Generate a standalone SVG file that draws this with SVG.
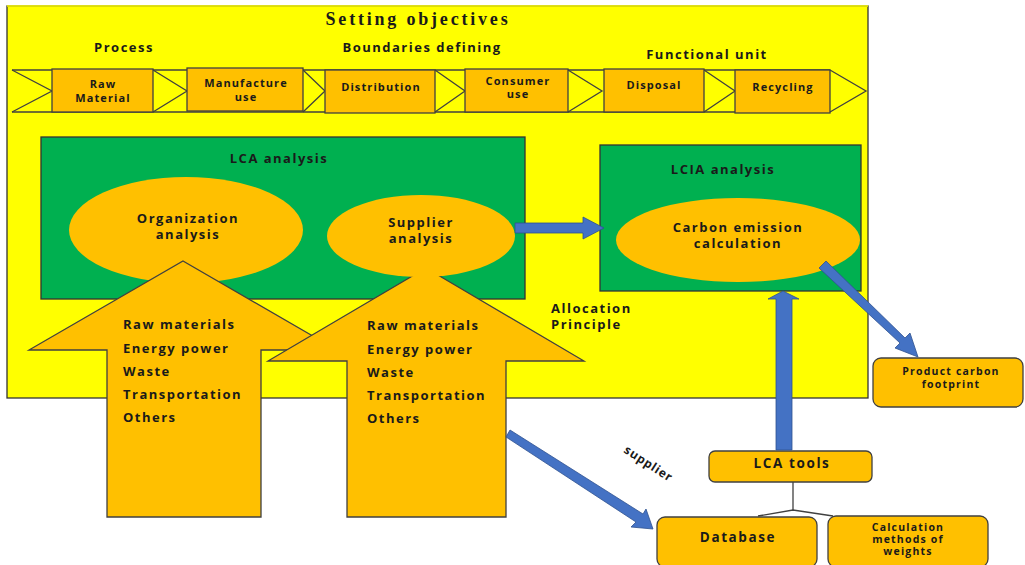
<svg xmlns="http://www.w3.org/2000/svg" width="1025" height="565" viewBox="0 0 1025 565">
  <defs>
    <style>
      .t { font-family: "Open Sans", "Liberation Sans", sans-serif; font-weight: 700; fill: #1a1a1a; }
      .c { text-anchor: middle; }
      .s10 { font-size: 10.5px; letter-spacing: 1.2px; }
      .s11 { font-size: 11px; letter-spacing: 1.1px; }
      .s12 { font-size: 13px; letter-spacing: 1.5px; }
      .s13 { font-size: 13.5px; letter-spacing: 1.6px; }
      .sup { font-size: 12px; letter-spacing: 0.8px; }
      .ttl { font-family: "Liberation Serif", "DejaVu Serif", serif; font-weight: 700; font-size: 18px; letter-spacing: 2.8px; fill: #1a1a1a; text-anchor: middle; }
      .ln { fill: none; stroke: #404040; stroke-width: 1.3; }
      .box { fill: #FFC000; stroke: #404040; stroke-width: 1.3; }
      .rbox { fill: #FFC000; stroke: #404040; stroke-width: 1.3; }
      .grn { fill: #00B050; stroke: #333; stroke-width: 1.3; }
      .ell { fill: #FFC000; stroke: none; }
      .big { fill: #FFC000; stroke: #404040; stroke-width: 1.3; }
      .blue { fill: #4472C4; stroke: #2F528F; stroke-width: 0.8; }
    </style>
  </defs>

  <!-- scope frame -->
  <g id="frame">
    <rect x="7" y="6" width="861" height="392" fill="#FFFF00" stroke="#333" stroke-width="1.3"/>
    <line x1="7" y1="6" x2="868" y2="6" stroke="#FFFF00" stroke-width="1.4"/>
    <text class="ttl" x="418" y="25">Setting objectives</text>
    <text class="t s12 c" x="124" y="52">Process</text>
    <text class="t s12 c" x="422" y="52">Boundaries defining</text>
    <text class="t s12 c" x="707" y="59">Functional unit</text>
  </g>

  <!-- life-cycle stage strip -->
  <g id="stages">
    <line class="ln" x1="12" y1="70" x2="830" y2="70"/>
    <line class="ln" x1="12" y1="112" x2="830" y2="112"/>
    <polyline class="ln" points="12,70 52,91 12,112"/>
    <polyline class="ln" points="153,70 187,91 153,112"/>
    <polyline class="ln" points="303,70 325,91 303,112"/>
    <polyline class="ln" points="435,70 465,91 435,112"/>
    <polyline class="ln" points="568,70 602,91 568,112"/>
    <polyline class="ln" points="704,70 735,91 704,112"/>
    <polyline class="ln" points="830,70 866,91 830,112"/>
  </g>
  <g id="stage-raw">
    <rect class="box" x="52" y="69" width="101" height="43"/>
    <text class="t s11 c" x="103" y="88">Raw</text>
    <text class="t s11 c" x="103" y="102">Material</text>
  </g>
  <g id="stage-manufacture">
    <rect class="box" x="187" y="68" width="116" height="43"/>
    <text class="t s11 c" x="246" y="87">Manufacture</text>
    <text class="t s11 c" x="246" y="101">use</text>
  </g>
  <g id="stage-distribution">
    <rect class="box" x="325" y="70" width="110" height="43"/>
    <text class="t s11 c" x="381" y="91">Distribution</text>
  </g>
  <g id="stage-consumer">
    <rect class="box" x="465" y="69" width="103" height="43"/>
    <text class="t s11 c" x="518" y="85">Consumer</text>
    <text class="t s11 c" x="518" y="98">use</text>
  </g>
  <g id="stage-disposal">
    <rect class="box" x="604" y="69" width="100" height="43"/>
    <text class="t s11 c" x="654" y="89">Disposal</text>
  </g>
  <g id="stage-recycling">
    <rect class="box" x="735" y="70" width="95" height="43"/>
    <text class="t s11 c" x="783" y="91">Recycling</text>
  </g>

  <!-- LCA analysis -->
  <g id="lca">
    <rect class="grn" x="41" y="137" width="484" height="162"/>
    <text class="t s12 c" x="279" y="163">LCA analysis</text>
  </g>
  <g id="org-analysis">
    <ellipse class="ell" cx="186" cy="230" rx="117" ry="53"/>
    <text class="t s12 c" x="188" y="223">Organization</text>
    <text class="t s12 c" x="188" y="239">analysis</text>
  </g>

  <!-- inventory inputs -->
  <g id="org-inputs">
    <polygon class="big" points="183,261 337,350 261,350 261,517 107,517 107,350 29,350"/>
    <text class="t s12" x="123" y="329">Raw materials</text>
    <text class="t s12" x="123" y="353">Energy power</text>
    <text class="t s12" x="123" y="376">Waste</text>
    <text class="t s12" x="123" y="399">Transportation</text>
    <text class="t s12" x="123" y="422">Others</text>
  </g>
  <g id="supplier-inputs">
    <polygon class="big" points="426,268 584,361 506,361 506,517 347,517 347,361 268,361"/>
    <text class="t s12" x="367" y="330">Raw materials</text>
    <text class="t s12" x="367" y="354">Energy power</text>
    <text class="t s12" x="367" y="377">Waste</text>
    <text class="t s12" x="367" y="400">Transportation</text>
    <text class="t s12" x="367" y="423">Others</text>
  </g>
  <g id="supplier-analysis">
    <ellipse class="ell" cx="421" cy="236" rx="94" ry="41"/>
    <text class="t s12 c" x="421" y="227">Supplier</text>
    <text class="t s12 c" x="421" y="243">analysis</text>
  </g>

  <!-- LCIA analysis -->
  <g id="lcia">
    <rect class="grn" x="600" y="145" width="261" height="146"/>
    <text class="t s12 c" x="723" y="174">LCIA analysis</text>
  </g>
  <g id="carbon-calc">
    <ellipse class="ell" cx="738" cy="240" rx="122" ry="42"/>
    <text class="t s12 c" x="738" y="232">Carbon emission</text>
    <text class="t s12 c" x="738" y="248">calculation</text>
  </g>

  <g id="allocation">
    <text class="t s12" x="551" y="313">Allocation</text>
    <text class="t s12" x="551" y="329">Principle</text>
  </g>

  <!-- outputs and tools -->
  <g id="footprint">
    <rect class="rbox" x="873" y="358" width="150" height="49" rx="8"/>
    <text class="t s10 c" x="951" y="375">Product carbon</text>
    <text class="t s10 c" x="951" y="388">footprint</text>
  </g>
  <g id="lca-tools">
    <rect class="rbox" x="709" y="451" width="163" height="31" rx="6"/>
    <text class="t s13 c" x="792" y="468">LCA tools</text>
  </g>
  <g id="database">
    <rect class="rbox" x="657" y="517" width="160" height="50" rx="8"/>
    <text class="t s13 c" x="738" y="542">Database</text>
  </g>
  <g id="calc-methods">
    <rect class="rbox" x="828" y="516" width="160" height="51" rx="8"/>
    <text class="t s10 c" x="908" y="531">Calculation</text>
    <text class="t s10 c" x="908" y="543">methods of</text>
    <text class="t s10 c" x="908" y="555">weights</text>
  </g>

  <!-- connectors -->
  <g id="connectors">
    <polygon class="blue" points="515,223 583,223 583,217 604,228 583,239 583,233 515,233"/>
    <polygon class="blue" points="776,450 776,299 768,299 783,291 799,299 792,299 792,450"/>
    <polygon class="blue" points="819,268 826,261 905,338 910,333 918,357 895,348 900,343"/>
    <polygon class="blue" points="506,437 510,430 643,514 646,509 653,529 631,527 636,522"/>
    <polyline class="ln" stroke="#111" points="793,482 793,510"/>
    <polyline class="ln" stroke="#111" points="758,516 793,510 833,516"/>
    <text class="t sup" transform="translate(623,452) rotate(33)">supplier</text>
  </g>
</svg>
